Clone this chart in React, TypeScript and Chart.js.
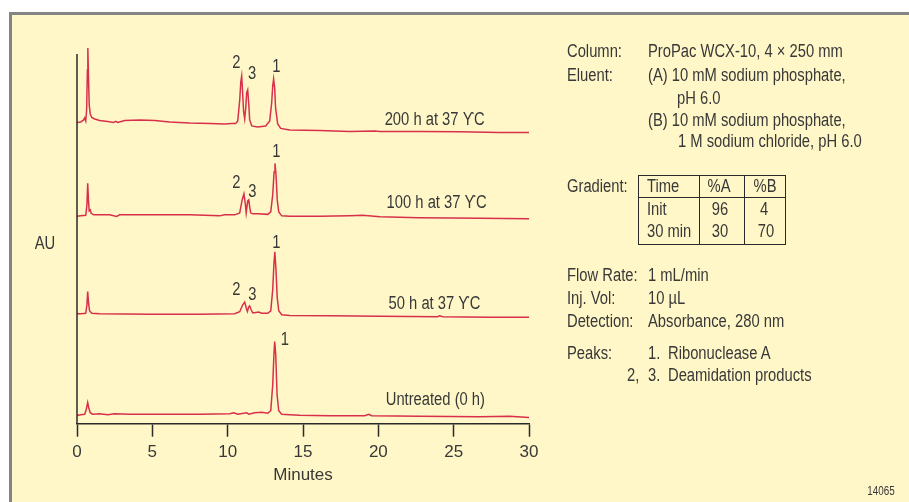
import React, { useEffect, useRef } from "react";
import { Chart, registerables } from "chart.js";

Chart.register(...registerables);

const FONT = "'Liberation Sans', Arial, sans-serif";
const SQUEEZE = 0.82;
const TEXT = "#383838";
const LINE = "#d8304a";
const BG = "#fff7c7";
const AXIS = "#2a2a2a";

// x-axis tick labels (minutes)
const xTicks = [0, 5, 10, 15, 20, 25, 30];

// chromatograms: [minutes, detector response (arbitrary AU, stacked)]
const trace200h: [number, number][] = [
  [0, 301.5], [0.25, 302], [0.44, 304], [0.51, 306], [0.58, 303], [0.64, 314], [0.69, 354],
  [0.72, 376], [0.76, 349], [0.81, 319], [0.88, 310], [0.98, 306.5], [1.17, 305], [1.5, 303.5],
  [2.04, 302.5], [2.44, 301.5], [2.57, 302.5], [2.7, 301.5], [3.17, 303.5], [4.16, 304],
  [5.16, 303.5], [6.15, 302], [7.48, 301], [8.81, 300.5], [9.8, 300], [10.27, 300.5],
  [10.53, 300.5], [10.67, 303], [10.8, 324], [10.87, 342], [10.93, 348], [11.0, 329],
  [11.06, 312], [11.13, 305], [11.2, 316], [11.26, 331], [11.33, 334], [11.4, 320],
  [11.46, 304], [11.6, 298], [12.0, 297], [12.52, 298], [12.79, 303], [12.92, 321],
  [12.99, 338], [13.05, 345], [13.12, 336], [13.18, 316], [13.32, 300], [13.52, 295.5],
  [14.12, 294], [16.1, 293.5], [18.1, 292.5], [19.76, 293], [20.1, 292.5], [22.7, 292.5],
  [25.4, 292.2], [28.05, 291.5], [30, 291.5],
];

const trace100h: [number, number][] = [
  [0, 207.5], [0.25, 208], [0.58, 208.5], [0.66, 219], [0.71, 240.5], [0.76, 224],
  [0.81, 213], [0.88, 214], [0.94, 210.5], [1.11, 209], [2.17, 209], [2.63, 207.5],
  [2.83, 209], [4.83, 209], [7.48, 209], [9.47, 208], [9.8, 209], [10.47, 209], [10.8, 211],
  [10.96, 224], [11.08, 230], [11.18, 219], [11.23, 211], [11.33, 223], [11.4, 224],
  [11.46, 217], [11.53, 211], [11.66, 210], [12.0, 210], [12.66, 209.5], [12.86, 212],
  [12.99, 229], [13.08, 252], [13.14, 260.5], [13.21, 249], [13.29, 224], [13.39, 212],
  [13.59, 208], [14.12, 207.5], [16.1, 207.5], [18.1, 208], [18.96, 208.5], [20.1, 207],
  [22.7, 206], [26.7, 205.5], [30, 205],
];

const trace50h: [number, number][] = [
  [0, 110], [0.25, 110], [0.58, 110.5], [0.66, 119], [0.71, 132.3], [0.76, 122], [0.83, 113],
  [0.98, 110.5], [1.5, 110], [4.83, 109.5], [8.14, 109.5], [10.47, 110], [10.8, 112],
  [11.0, 119], [11.13, 121.7], [11.23, 116], [11.31, 112.3], [11.4, 117], [11.46, 118],
  [11.56, 114], [11.66, 111], [11.79, 111], [12.06, 111.7], [12.26, 110.5], [12.66, 110.5],
  [12.86, 113], [12.99, 134], [13.07, 160], [13.13, 172], [13.2, 156], [13.29, 126],
  [13.39, 113], [13.59, 109], [14.12, 108.3], [16.77, 108], [20.1, 107.5], [23.94, 107],
  [24.07, 108], [24.27, 107], [27.39, 106.5], [30, 106.5],
];

const trace0h: [number, number][] = [
  [0, 8.3], [0.25, 9], [0.51, 9.5], [0.61, 14], [0.71, 21.3], [0.78, 16], [0.88, 11],
  [1.04, 9.5], [1.5, 10], [2.04, 9], [2.5, 10], [3.5, 9.5], [5.5, 9.5], [8.14, 9.5],
  [10.14, 10], [10.4, 11], [10.67, 9.5], [11.26, 11], [11.4, 9.5], [11.79, 11],
  [12.26, 11.5], [12.66, 10.5], [12.86, 13], [12.99, 39], [13.07, 69], [13.12, 82.3],
  [13.19, 69], [13.28, 29], [13.39, 13], [13.59, 9.5], [14.12, 9], [14.78, 8.5],
  [16.77, 8], [19.1, 8], [19.36, 9.5], [19.56, 8], [22.74, 7.5], [26.72, 7],
  [28.7, 7.5], [30, 6.3],
];

const traces = [trace200h, trace100h, trace50h, trace0h];
const traceNames = ["200 h at 37 ϒC", "100 h at 37 ϒC", "50 h at 37 ϒC", "Untreated (0 h)"];
// label anchors [minutes, response] for each trace name (left-aligned)
const traceLabelAt: [number, number][] = [[20.42, 304], [20.55, 221], [20.68, 120], [20.49, 24]];

// peak number labels: text, [minutes, response]
const peakText = ["2", "3", "1", "2", "3", "1", "2", "3", "1", "1"];
const peakAt: [number, number][] = [
  [10.58, 360.7], [11.63, 349.5], [13.23, 356.7],
  [10.58, 240.7], [11.64, 232.3], [13.23, 272],
  [10.58, 134], [11.64, 129], [13.23, 180.5],
  [13.79, 83.5],
];

const Y_MAX = 380;
const Y_AXIS_TOP = 370;

function squeezedText(ctx: CanvasRenderingContext2D, txt: string, px: number, py: number, align: "left" | "center") {
  ctx.save();
  ctx.translate(px, py);
  ctx.scale(SQUEEZE, 1);
  ctx.textAlign = align;
  ctx.fillText(txt, 0, 0);
  ctx.restore();
}

const annotations = {
  id: "annotations",
  afterDraw(chart: any) {
    const { ctx, chartArea, scales } = chart;
    const x = scales.x;
    const y = scales.y;
    ctx.save();
    ctx.strokeStyle = AXIS;
    ctx.lineWidth = 1.5;
    ctx.beginPath();
    ctx.moveTo(chartArea.left, y.getPixelForValue(Y_AXIS_TOP));
    ctx.lineTo(chartArea.left, chartArea.bottom);
    ctx.stroke();

    ctx.fillStyle = TEXT;
    ctx.font = `18px ${FONT}`;
    ctx.textBaseline = "middle";
    traceNames.forEach((name, i) => {
      const [t, v] = traceLabelAt[i];
      squeezedText(ctx, name, x.getPixelForValue(t), y.getPixelForValue(v), "left");
    });
    peakText.forEach((txt, i) => {
      const [t, v] = peakAt[i];
      squeezedText(ctx, txt, x.getPixelForValue(t), y.getPixelForValue(v), "center");
    });
    ctx.restore();
  },
};

type Item = { t: string; x: number; y: number; c?: boolean; s?: number };
const panel: Item[] = [
  { t: "Column:", x: 566.7, y: 51 },
  { t: "ProPac WCX-10, 4 × 250 mm", x: 648.3, y: 51 },
  { t: "Eluent:", x: 566.7, y: 74.5 },
  { t: "(A) 10 mM sodium phosphate,", x: 648, y: 74.5 },
  { t: "pH 6.0", x: 676.7, y: 97.5 },
  { t: "(B) 10 mM sodium phosphate,", x: 648, y: 119.5 },
  { t: "1 M sodium chloride, pH 6.0", x: 678, y: 140.5 },
  { t: "Gradient:", x: 566.7, y: 185.5 },
  { t: "Time", x: 646.7, y: 185.5 },
  { t: "%A", x: 719, y: 185.5, c: true },
  { t: "%B", x: 765, y: 185.5, c: true },
  { t: "Init", x: 646.7, y: 208.7 },
  { t: "96", x: 720, y: 208.7, c: true },
  { t: "4", x: 763.5, y: 208.7, c: true },
  { t: "30 min", x: 646.7, y: 230.3 },
  { t: "30", x: 719.5, y: 230.3, c: true },
  { t: "70", x: 765.5, y: 230.3, c: true },
  { t: "Flow Rate:", x: 566.7, y: 275 },
  { t: "1 mL/min", x: 648.3, y: 275 },
  { t: "Inj. Vol:", x: 566.7, y: 297.5 },
  { t: "10 µL", x: 648.3, y: 297.5 },
  { t: "Detection:", x: 566.7, y: 320.5 },
  { t: "Absorbance, 280 nm", x: 648.3, y: 320.5 },
  { t: "Peaks:", x: 566.7, y: 352.5 },
  { t: "1.", x: 648.3, y: 352.5 },
  { t: "Ribonuclease A", x: 668.3, y: 352.5 },
  { t: "2,", x: 626.7, y: 374.5 },
  { t: "3.", x: 648.3, y: 374.5 },
  { t: "Deamidation products", x: 668.3, y: 374.5 },
  { t: "AU", x: 44.5, y: 243, c: true },
  { t: "14065", x: 881, y: 491.7, c: true, s: 12 },
];

export default function App() {
  const ref = useRef<HTMLCanvasElement>(null);
  useEffect(() => {
    if (!ref.current) return;
    const chart = new Chart(ref.current, {
      type: "line",
      data: {
        datasets: traces.map((tr) => ({
          data: tr.map(([t, v]) => ({ x: t, y: v })),
          borderColor: LINE,
          borderWidth: 1.5,
          pointRadius: 0,
          tension: 0,
          fill: false,
        })),
      },
      options: {
        animation: false,
        responsive: false,
        devicePixelRatio: 1,
        layout: { padding: { left: 77, right: 380, top: 44, bottom: 16.5 } },
        plugins: { legend: { display: false }, tooltip: { enabled: false } },
        scales: {
          x: {
            type: "linear",
            min: 0,
            max: 30,
            afterBuildTicks: (axis: any) => {
              axis.ticks = xTicks.map((v) => ({ value: v }));
            },
            ticks: { font: { family: FONT, size: 17 }, color: TEXT, padding: 5, maxRotation: 0 },
            grid: { drawOnChartArea: false, tickLength: 13, tickColor: AXIS, tickWidth: 1.5 },
            border: { display: true, color: AXIS, width: 1.5 },
            title: {
              display: true,
              text: "Minutes",
              font: { family: FONT, size: 17 },
              color: TEXT,
              padding: { top: -2, bottom: 0 },
            },
          },
          y: { display: false, min: 0, max: Y_MAX },
        },
      },
      plugins: [annotations],
    } as any);
    return () => chart.destroy();
  }, []);

  return (
    <div style={{ position: "fixed", left: 0, top: 0, width: 909, height: 502, overflow: "hidden", background: "#fff" }}>
      <div
        style={{
          position: "absolute",
          left: 9,
          top: 12,
          width: 960,
          height: 560,
          background: BG,
          borderLeft: "3px solid #848484",
          borderTop: "3px solid #848484",
        }}
      />
      <canvas ref={ref} width={909} height={502} style={{ position: "absolute", left: 0, top: 0, width: 909, height: 502 }} />
      <div
        style={{
          position: "absolute",
          left: 638,
          top: 175,
          width: 148,
          height: 70,
          border: `1.5px solid ${AXIS}`,
          boxSizing: "border-box",
        }}
      />
      <div style={{ position: "absolute", left: 638, top: 196.5, width: 148, height: 0, borderTop: `1.5px solid ${AXIS}` }} />
      <div style={{ position: "absolute", left: 699, top: 175, width: 0, height: 70, borderLeft: `1.5px solid ${AXIS}` }} />
      <div style={{ position: "absolute", left: 743.5, top: 175, width: 0, height: 70, borderLeft: `1.5px solid ${AXIS}` }} />
      {panel.map((it, i) => {
        const s = it.s ?? 18;
        const lh = Math.round(s * 1.22);
        const baseline = (lh - 1.117 * s) / 2 + 0.905 * s;
        const top = it.y - (baseline - 0.3645 * s);
        return (
          <span
            key={i}
            style={{
              position: "absolute",
              left: it.x,
              top,
              fontFamily: FONT,
              fontSize: s,
              lineHeight: `${lh}px`,
              color: TEXT,
              whiteSpace: "pre",
              transformOrigin: it.c ? "center" : "left center",
              transform: it.c ? `translateX(-50%) scaleX(${SQUEEZE})` : `scaleX(${SQUEEZE})`,
            }}
          >
            {it.t}
          </span>
        );
      })}
    </div>
  );
}
